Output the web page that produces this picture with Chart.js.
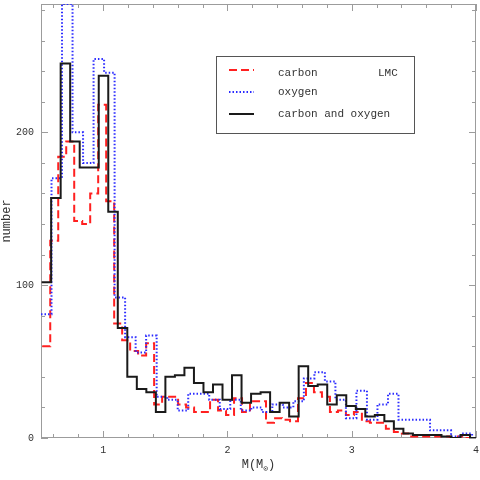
<!DOCTYPE html>
<html>
<head>
<meta charset="utf-8">
<script src="https://cdn.jsdelivr.net/npm/chart.js@4.4.1/dist/chart.umd.min.js"></script>
<style>
  html, body { margin: 0; padding: 0; background: #fff; }
  #wrap { width: 480px; height: 480px; }
</style>
</head>
<body>
<div id="wrap"><canvas id="massChart" width="480" height="480"></canvas></div>
<script>
// histogram bins: first edge and width of each series (in M/Msun)
const carbonStart = 0.51, carbonWidth = 0.0643;
const oxygenStart = 0.50, oxygenWidth = 0.0846;
const bothStart = 0.505, bothWidth = 0.0766;

// counts per bin
const carbonCounts = [60, 129, 184, 194, 142, 140, 160, 218, 155, 75, 64, 57, 54, 62, 22, 27, 27, 22, 20, 17,
  17, 25, 18, 15, 26, 17, 24, 24, 10, 13, 12, 11, 26, 36, 30, 27, 17, 18, 15, 17,
  11, 10, 10, 6, 4, 3, 1, 1, 1, 1, 1, 0, 1, 0, 0];
const oxygenCounts = [81, 170, 284, 200, 180, 248, 239, 92, 66, 56, 67, 27, 25, 18, 29, 29, 25, 19, 25, 18,
  20, 17, 22, 20, 24, 39, 43, 37, 25, 13, 31, 12, 22, 29, 12, 12, 12, 5, 5, 1, 3, 0];
const bothCounts = [102, 157, 245, 194, 177, 177, 237, 148, 72, 40, 32, 30, 17, 40, 41, 46, 36, 30, 35, 25,
  41, 23, 29, 30, 17, 23, 14, 47, 34, 35, 22, 28, 21, 19, 14, 15, 11, 6, 3, 2,
  2, 2, 1, 0, 2, 0];

const seriesLabels = ['carbon', 'oxygen', 'carbon and oxygen'];
const xTicks = [1, 2, 3, 4];
const yTicks = [0, 100, 200];
const xMinorStep = 0.2, yMinorStep = 20;
const xMin = 0.5, xMax = 4, yMin = 0, yMax = 284;

const frameColor = '#9c9c9c';
const textColor = '#333';
const monoFont = '"Liberation Mono", "DejaVu Sans Mono", monospace';

// step outline for a histogram: one point per left edge, plus the closing edge
function histPoints(start, width, counts) {
    const pts = counts.map(function(c, i) { return { x: start + i * width, y: c }; });
    pts.push({ x: start + counts.length * width, y: counts[counts.length - 1] });
    pts.push({ x: start + counts.length * width, y: 0 });
    return pts;
}

const framePlugin = {
    id: 'frame',
    beforeDatasetsDraw: function(chart) {
        const ctx = chart.ctx, a = chart.chartArea;
        const x = chart.scales.x, y = chart.scales.y;
        ctx.save();
        ctx.strokeStyle = frameColor;
        ctx.lineWidth = 1;
        ctx.strokeRect(a.left + 0.5, a.top + 0.5, a.right - a.left - 1, a.bottom - a.top - 1);
        ctx.beginPath();
        // x ticks, inward, bottom and top
        for (let v = xMin + 0.1; v <= xMax + 1e-6; v += xMinorStep) {
            const px = Math.round(x.getPixelForValue(v)) + 0.5;
            const len = xTicks.some(function(t) { return Math.abs(t - v) < 1e-6; }) ? 7 : 4;
            ctx.moveTo(px, a.bottom); ctx.lineTo(px, a.bottom - len);
            ctx.moveTo(px, a.top); ctx.lineTo(px, a.top + len);
        }
        // y ticks, inward, left and right
        for (let v = yMin; v <= yMax; v += yMinorStep) {
            const py = Math.round(y.getPixelForValue(v)) + 0.5;
            const len = yTicks.indexOf(v) >= 0 ? 7 : 4;
            ctx.moveTo(a.left, py); ctx.lineTo(a.left + len, py);
            ctx.moveTo(a.right, py); ctx.lineTo(a.right - len, py);
        }
        ctx.stroke();

        // axis titles
        ctx.fillStyle = textColor;
        ctx.font = '12px ' + monoFont;
        ctx.textBaseline = 'alphabetic';
        const cx = (a.left + a.right) / 2;
        const w1 = ctx.measureText('M(M').width;
        ctx.font = '8px ' + monoFont;
        const w2 = ctx.measureText('\u2299').width;
        ctx.font = '12px ' + monoFont;
        const w3 = ctx.measureText(')').width;
        let tx = cx - (w1 + w2 + w3) / 2;
        ctx.textAlign = 'left';
        ctx.fillText('M(M', tx, 468);
        ctx.font = '8px ' + monoFont;
        ctx.fillText('\u2299', tx + w1, 471);
        ctx.font = '12px ' + monoFont;
        ctx.fillText(')', tx + w1 + w2, 468);

        ctx.translate(7, (a.top + a.bottom) / 2);
        ctx.rotate(-Math.PI / 2);
        ctx.textAlign = 'center';
        ctx.textBaseline = 'middle';
        ctx.fillText('number', 0, 0);
        ctx.restore();
    },
    afterDraw: function(chart) {
        const ctx = chart.ctx;
        const box = { left: 216, top: 56, right: 414, bottom: 133 };
        const rows = [76, 95, 117];
        const sampleY = [70, 92, 114];
        const ds = chart.data.datasets;
        // dataset order is black, blue, red; legend lists red, blue, black
        const styles = [ds[2], ds[1], ds[0]];
        ctx.save();
        ctx.strokeStyle = '#555';
        ctx.lineWidth = 1;
        ctx.strokeRect(box.left + 0.5, box.top + 0.5, box.right - box.left, box.bottom - box.top);
        styles.forEach(function(s, i) {
            ctx.beginPath();
            ctx.strokeStyle = s.borderColor;
            ctx.lineWidth = s.borderWidth;
            ctx.setLineDash(s.borderDash || []);
            ctx.moveTo(229, sampleY[i]);
            ctx.lineTo(254, sampleY[i]);
            ctx.stroke();
        });
        ctx.setLineDash([]);
        ctx.fillStyle = textColor;
        ctx.font = '11px ' + monoFont;
        ctx.textAlign = 'left';
        ctx.textBaseline = 'alphabetic';
        seriesLabels.forEach(function(t, i) { ctx.fillText(t, 278, rows[i]); });
        ctx.fillText('LMC', 378, rows[0]);
        ctx.restore();
    }
};

const chart = new Chart(document.getElementById('massChart'), {
    type: 'line',
    data: {
        datasets: [
            {
                label: seriesLabels[2],
                data: histPoints(bothStart, bothWidth, bothCounts),
                borderColor: '#1a1a1a',
                borderWidth: 2
            },
            {
                label: seriesLabels[1],
                data: histPoints(oxygenStart, oxygenWidth, oxygenCounts),
                borderColor: '#2a2aff',
                borderWidth: 2,
                borderDash: [1.5, 2]
            },
            {
                label: seriesLabels[0],
                data: histPoints(carbonStart, carbonWidth, carbonCounts),
                borderColor: '#ff2020',
                borderWidth: 2,
                borderDash: [8, 4]
            }
        ]
    },
    options: {
        responsive: false,
        animation: false,
        parsing: false,
        elements: {
            // 'before': horizontal at the bin's count, then the vertical at the next edge
            line: { stepped: 'before', tension: 0, fill: false, borderCapStyle: 'butt' },
            point: { radius: 0 }
        },
        layout: { padding: { top: 4, right: 4, left: 0, bottom: 0 } },
        plugins: {
            legend: { display: false },
            tooltip: { enabled: false }
        },
        scales: {
            x: {
                type: 'linear',
                min: xMin,
                max: xMax,
                afterFit: function(s) {
                    s.height = 42;
                    s.paddingLeft = 0; s.paddingRight = 0;
                },
                afterBuildTicks: function(s) { s.ticks = xTicks.map(function(v) { return { value: v }; }); },
                grid: { display: false, drawTicks: false },
                border: { display: false },
                ticks: { color: textColor, padding: 6, font: { family: monoFont, size: 10 }, maxRotation: 0 }
            },
            y: {
                type: 'linear',
                min: yMin,
                max: yMax,
                afterFit: function(s) {
                    s.width = 41;
                    s.paddingTop = 0; s.paddingBottom = 0;
                },
                afterBuildTicks: function(s) { s.ticks = yTicks.map(function(v) { return { value: v }; }); },
                grid: { display: false, drawTicks: false },
                border: { display: false },
                ticks: { color: textColor, padding: 7, font: { family: monoFont, size: 10 } }
            }
        }
    },
    plugins: [framePlugin]
});
</script>
</body>
</html>
